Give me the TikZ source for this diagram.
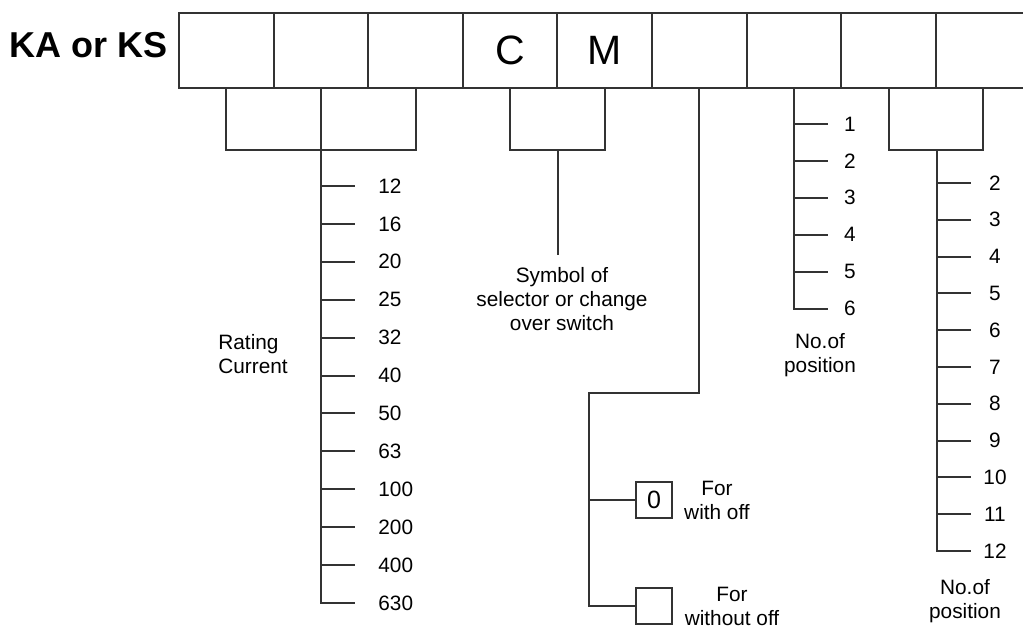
\documentclass[tikz,border=0pt]{standalone}
\usepackage{fontspec}
\setmainfont{Liberation Sans}
\usepackage{tikz}

\begin{document}
\begin{tikzpicture}[x=0.5pt, y=-0.5pt,
		wire/.style={line width=1pt, draw=black!80},
		tickline/.style={wire, shorten >=#1},
		cell/.style={wire, minimum width=47.3pt, minimum height=37.5pt, inner sep=0pt, font=\fontsize{20.5}{24}\selectfont},
		sbox/.style={wire, minimum size=18pt, inner sep=0pt, font=\fontsize{12.5}{14}\selectfont},
		lbl/.style={inner sep=0pt, font=\fontsize{10.4}{12}\selectfont},
		num/.style={lbl, minimum width=12pt},
		txt/.style={lbl, align=center}]
		\useasboundingbox (0,0) rectangle (1023,629);
		% Type code
		\node[inner sep=0pt, font=\fontsize{18}{22}\selectfont\bfseries] (title) at (89,45) {KA or KS};
		\foreach \t [count=\i] in {{},{},{},C,M,{},{},{},{}}
			\node[cell] (c\i) at ({179+94.6*(\i-0.5)},50.5) {\t};
		% Rating current
		\draw[wire] (c1.south) -- ++(0,61) -| (c3.south);
		\foreach \v [count=\k] in {12,16,20,25,32,40,50,63,100,200,400,630}
			\node[lbl, anchor=west] (rc\k) at (378,{186+37.9*(\k-1)}) {\v};
		\draw[tickline=11.5pt] (c2.south) |- (rc12.west);
		\foreach \k in {1,...,11}
			\draw[tickline=11.5pt] (c2.south |- rc\k.west) -- (rc\k.west);
		\node[lbl, anchor=west, align=left] (rating) at (218,354) {Rating\\Current};
		% Selector symbol
		\draw[wire] (c4.south) -- ++(0,61) -| (c5.south);
		\coordinate (cmj) at ([yshift=-30.5pt]c4.south east);
		\node[txt] (sym) at (562,299) {Symbol of\\selector or change\\over switch};
		\draw[tickline=6pt] (cmj) -- (cmj |- sym.north);
		% Off position
		\node[sbox] (off) at (654,500) {0};
		\node[sbox] (nooff) at (654,606) {};
		\coordinate (offj) at (589,393);
		\draw[wire] (c6.south) |- (offj) |- (nooff.west);
		\draw[wire] (offj |- off.west) -- (off.west);
		\node[txt] (fwith) at (717,500) {For\\with off};
		\node[txt] (fwithout) at (732,606) {For\\without off};
		% Positions 1 to 6
		\foreach \k in {1,...,6}
			\node[num] (p\k) at (850,{124+36.9*(\k-1)}) {\k};
		\draw[tickline=5pt] (c7.south) |- (p6.west);
		\foreach \k in {1,...,5}
			\draw[tickline=5pt] (c7.south |- p\k.west) -- (p\k.west);
		\node[txt] (pos1) at (820,355) {No.of\\position};
		% Positions 2 to 12
		\draw[wire] (c8.south) -- ++(0,61) -| (c9.south);
		\coordinate (pj) at ([yshift=-30.5pt]c8.south east);
		\foreach \k in {2,...,12}
			\node[num] (q\k) at (995,{183+36.8*(\k-2)}) {\k};
		\draw[tickline=6pt] (pj) |- (q12.west);
		\foreach \k in {2,...,11}
			\draw[tickline=6pt] (pj |- q\k.west) -- (q\k.west);
		\node[txt] (pos2) at (965,601) {No.of\\position};
	\end{tikzpicture}
\end{document}
